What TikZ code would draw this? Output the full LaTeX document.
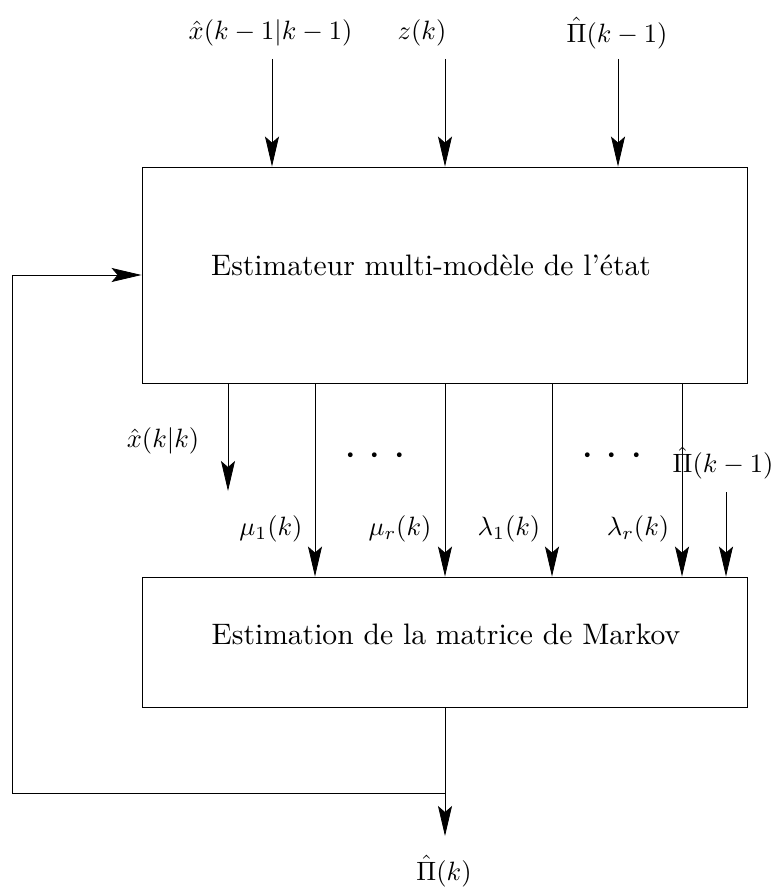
\documentclass[tikz,border=0pt]{standalone}
\usepackage{graphicx}
\usetikzlibrary{arrows.meta}
\newcommand{\lbl}[1]{\scalebox{2.65}{#1}}
\newcommand{\btxt}[1]{\scalebox{2.96}{#1}}
\newcommand{\dotsrow}{\scalebox{4.5}{$\cdot$}\hspace{12pt}\scalebox{4.5}{$\cdot$}\hspace{12pt}\scalebox{4.5}{$\cdot$}}
\begin{document}
\begin{tikzpicture}[x=1pt,y=-1pt,
  every node/.style={inner sep=0pt},
  boxnode/.style={draw, line width=0.9pt, minimum width=605pt},
  arr/.style={line width=0.8pt, -{Stealth[length=30pt,width=14pt,inset=6pt]}}]
\useasboundingbox (0,0) rectangle (778,888);
% boxes
\node[boxnode, minimum height=216pt] (top) at (444.5,275) {};
\node (toptxt) at (431,265) {\btxt{Estimateur multi-modèle de l'état}};
\node[boxnode, minimum height=130pt] (bot) at (445,642) {};
\node (bottxt) at (446,634) {\btxt{Estimation de la matrice de Markov}};
% top inputs
\node (in1) at (270.5,33) {\lbl{$\hat{x}(k-1|k-1)$}};
\node (in2) at (422,33) {\lbl{$z(k)$}};
\node (in3) at (617,33) {\lbl{$\hat{\Pi}(k-1)$}};
\coordinate (s1) at (272,59);
\coordinate (s2) at (445,59);
\coordinate (s3) at (618,59);
\draw[arr] (s1) -- (s1 |- top.north);
\draw[arr] (s2) -- (s2 |- top.north);
\draw[arr] (s3) -- (s3 |- top.north);
% outputs of top box
\coordinate (o1) at (228,0);
\coordinate (o2) at (315,0);
\coordinate (o3) at (445,0);
\coordinate (o4) at (552,0);
\coordinate (o5) at (682,0);
\coordinate (o6) at (726,0);
\coordinate (xe) at (228,491);
\coordinate (pe) at (726,492);
\draw[arr] (o1 |- top.south) -- (xe);
\draw[arr] (o2 |- top.south) -- (o2 |- bot.north);
\draw[arr] (o3 |- top.south) -- (o3 |- bot.north);
\draw[arr] (o4 |- top.south) -- (o4 |- bot.north);
\draw[arr] (o5 |- top.south) -- (o5 |- bot.north);
\draw[arr] (pe) -- (o6 |- bot.north);
\node (lx) at (163,441) {\lbl{$\hat{x}(k|k)$}};
\node (lm1) at (271,529) {\lbl{$\mu_1(k)$}};
\node (lmr) at (400,529) {\lbl{$\mu_r(k)$}};
\node (ll1) at (509,529) {\lbl{$\lambda_1(k)$}};
\node (llr) at (638,529) {\lbl{$\lambda_r(k)$}};
\node (lp) at (723,463) {\lbl{$\hat{\Pi}(k-1)$}};
\node (d1) at (375,456) {\dotsrow};
\node (d2) at (612,456) {\dotsrow};
% output and feedback
\coordinate (j) at (445,793);
\coordinate (fbx) at (12,0);
\coordinate (oe) at (445,836);
\node (out) at (444,871) {\lbl{$\hat{\Pi}(k)$}};
\draw[arr] (bot.south -| j) -- (oe);
\draw[arr] (j) -- (j -| fbx) -- (fbx |- top.west) -- (top.west);
\end{tikzpicture}
\end{document}
